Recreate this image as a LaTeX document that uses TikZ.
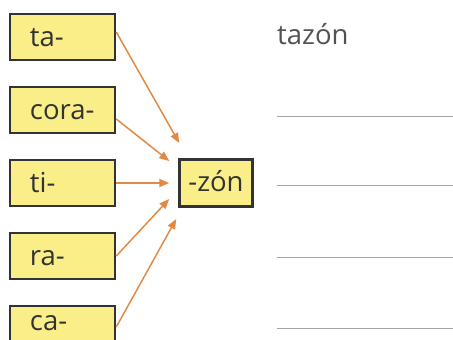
\documentclass[tikz,border=0pt]{standalone}
\usepackage{fontspec}
\setmainfont{Open Sans}
\usepackage{xcolor}
\usetikzlibrary{arrows.meta,positioning}
\definecolor{boxfill}{HTML}{F9EE88}
\definecolor{ink}{HTML}{333333}
\definecolor{arrowc}{HTML}{E08A45}

\begin{document}
\begin{tikzpicture}[
    x=1pt, y=-1pt,
    font=\fontsize{27.5}{31}\selectfont,
    node distance=24.5pt,
    syl/.style={draw=ink, fill=boxfill, line width=2.5pt, text=ink, align=left,
        text width=65pt, inner xsep=20pt, inner ysep=0pt, minimum height=46pt,
        text height=22pt, text depth=4pt},
    suffix/.style={draw=ink, fill=boxfill, line width=2.5pt, text=ink,
        minimum width=73pt, minimum height=47pt, inner sep=0pt,
        text height=21pt, text depth=5pt},
    line/.style={-{Triangle[length=10pt,width=8pt]}, arrowc, line width=1.5pt},
    rule/.style={draw=gray!70, line width=1pt}
]
\useasboundingbox (0,0) rectangle (453,340);

\node[syl] (ta) at (62.5,37) {ta-};
\node[syl, below=of ta] (cora) {cora-};
\node[syl, below=of cora] (ti) {ti-};
\node[syl, below=of ti] (ra) {ra-};
\node[syl, below=of ra, text height=21pt, text depth=19pt] (ca) {ca-};

\node[suffix, right=62pt of ti] (zon) {-zón};

\draw[line] ([yshift=5pt]ta.east) -- ([xshift=1pt,yshift=40pt]zon.west);
\draw[line] ([yshift=-9pt]cora.east) -- ([xshift=-9pt,yshift=22pt]zon.west);
\draw[line] (ti.east) -- ([xshift=-9pt]zon.west);
\draw[line] (ra.east) -- ([xshift=-9pt,yshift=-16pt]zon.west);
\draw[line] ([yshift=2pt]ca.east) -- ([xshift=-2pt,yshift=-36pt]zon.west);

\node[anchor=base west, inner sep=0pt, text=ink!85] (word) at (277,45) {tazón};

\foreach \y in {116,185,257,328}
    \draw[rule] (277,\y) -- (453,\y);
\end{tikzpicture}
\end{document}
